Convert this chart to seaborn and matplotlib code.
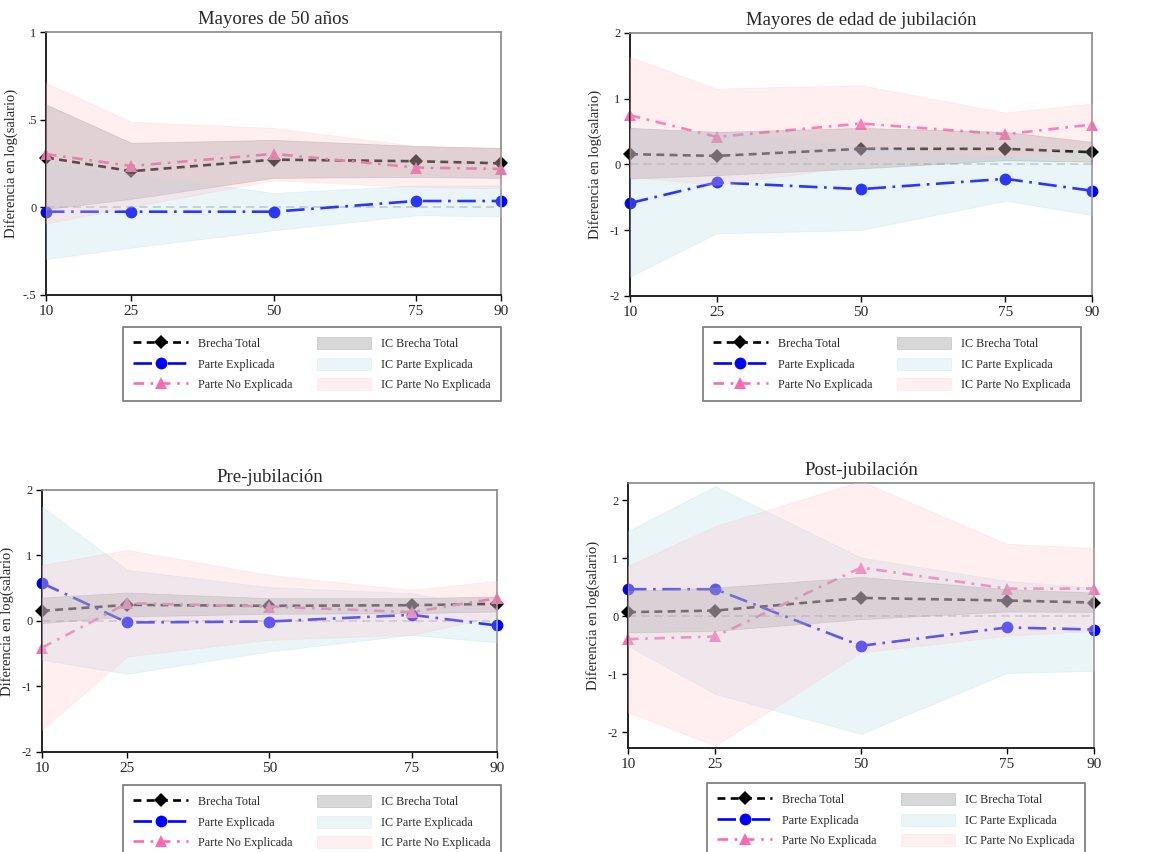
import matplotlib
matplotlib.use("Agg")
import matplotlib.pyplot as plt
import seaborn as sns

# percentiles
pct = [10, 25, 50, 75, 90]

# Mayores de 50 anos
m50_total = [0.284, 0.206, 0.272, 0.263, 0.251]
m50_expl = [-0.025, -0.025, -0.025, 0.036, 0.036]
m50_noexpl = [0.303, 0.236, 0.305, 0.227, 0.219]
m50_total_lo = [-0.01, 0.048, 0.168, 0.173, 0.168]
m50_total_hi = [0.587, 0.368, 0.385, 0.350, 0.339]
m50_expl_lo = [-0.295, -0.230, -0.131, -0.046, -0.051]
m50_expl_hi = [0.250, 0.190, 0.082, 0.124, 0.124]
m50_noexpl_lo = [-0.093, 0.002, 0.154, 0.116, 0.107]
m50_noexpl_hi = [0.710, 0.488, 0.453, 0.350, 0.335]

# Mayores de edad de jubilacion
mej_total = [0.157, 0.130, 0.238, 0.238, 0.187]
mej_expl = [-0.587, -0.273, -0.375, -0.218, -0.400]
mej_noexpl = [0.749, 0.420, 0.623, 0.460, 0.607]
mej_total_lo = [-0.213, -0.162, -0.060, 0.066, 0.040]
mej_total_hi = [0.557, 0.496, 0.557, 0.496, 0.344]
mej_expl_lo = [-1.706, -1.048, -0.997, -0.552, -0.770]
mej_expl_hi = [0.547, 0.500, 0.270, 0.120, -0.010]
mej_noexpl_lo = [-0.190, -0.310, -0.020, 0.120, 0.287]
mej_noexpl_hi = [1.635, 1.154, 1.205, 0.790, 0.927]

# Pre-jubilacion
pre_total = [0.155, 0.246, 0.231, 0.241, 0.262]
pre_expl = [0.577, -0.023, -0.008, 0.094, -0.069]
pre_noexpl = [-0.409, 0.272, 0.221, 0.135, 0.348]
pre_total_lo = [-0.033, 0.069, 0.109, 0.119, 0.145]
pre_total_hi = [0.358, 0.435, 0.348, 0.348, 0.374]
pre_expl_lo = [-0.592, -0.806, -0.465, -0.211, -0.328]
pre_expl_hi = [1.746, 0.780, 0.516, 0.424, 0.196]
pre_noexpl_lo = [-1.660, -0.541, -0.287, -0.211, 0.069]
pre_noexpl_hi = [0.856, 1.085, 0.704, 0.475, 0.612]

# Post-jubilacion
post_total = [0.072, 0.100, 0.318, 0.273, 0.238]
post_expl = [0.468, 0.468, -0.508, -0.192, -0.227]
post_noexpl = [-0.393, -0.347, 0.841, 0.479, 0.479]
post_total_lo = [-0.278, -0.250, -0.049, 0.083, 0.077]
post_total_hi = [0.439, 0.496, 0.680, 0.468, 0.410]
post_expl_lo = [-0.508, -1.340, -2.029, -0.978, -0.938]
post_expl_hi = [1.472, 2.247, 1.013, 0.611, 0.496]
post_noexpl_lo = [-1.656, -2.230, -0.623, -0.336, -0.250]
post_noexpl_hi = [0.869, 1.558, 2.333, 1.254, 1.180]

sns.set_style("white")
plt.rcParams["font.family"] = ["Liberation Serif", "DejaVu Serif"]

fig = plt.figure(figsize=(11.63, 8.52), dpi=100)

panels = [
    ("Mayores de 50 años", [0.0396, 0.6538, 0.3912, 0.3086],
     (m50_total, m50_expl, m50_noexpl, m50_total_lo, m50_total_hi,
      m50_expl_lo, m50_expl_hi, m50_noexpl_lo, m50_noexpl_hi),
     (-0.5, 1.0), [-0.5, 0, 0.5, 1], ["-.5", "0", ".5", "1"], (0.1058, 0.6162)),
    ("Mayores de edad de jubilación", [0.5417, 0.6526, 0.3973, 0.3087],
     (mej_total, mej_expl, mej_noexpl, mej_total_lo, mej_total_hi,
      mej_expl_lo, mej_expl_hi, mej_noexpl_lo, mej_noexpl_hi),
     (-2, 2), [-2, -1, 0, 1, 2], ["-2", "-1", "0", "1", "2"], (0.6045, 0.6162)),
    ("Pre-jubilación", [0.0361, 0.1174, 0.3912, 0.3075],
     (pre_total, pre_expl, pre_noexpl, pre_total_lo, pre_total_hi,
      pre_expl_lo, pre_expl_hi, pre_noexpl_lo, pre_noexpl_hi),
     (-2, 2), [-2, -1, 0, 1, 2], ["-2", "-1", "0", "1", "2"], (0.1058, 0.0786)),
    ("Post-jubilación", [0.5400, 0.1221, 0.4007, 0.3110],
     (post_total, post_expl, post_noexpl, post_total_lo, post_total_hi,
      post_expl_lo, post_expl_hi, post_noexpl_lo, post_noexpl_hi),
     (-2.27, 2.3), [-2, -1, 0, 1, 2], ["-2", "-1", "0", "1", "2"], (0.6080, 0.0810)),
]

for title, rect, series, ylim, yticks, ylabels, leg_pos in panels:
    total, expl, noexpl, t_lo, t_hi, e_lo, e_hi, n_lo, n_hi = series
    ax = fig.add_axes(rect)

    # reference line at zero
    ax.axhline(0, color="#c8c8c8", linestyle=(0, (5, 3)), linewidth=1.2, zorder=1)

    sns.lineplot(x=pct, y=total, ax=ax, color="black", marker="D", markersize=7,
                 linewidth=1.9, linestyle=(0, (3, 2)), markeredgewidth=0,
                 clip_on=False, zorder=2)
    sns.lineplot(x=pct, y=expl, ax=ax, color="#0000ff", marker="o", markersize=8.5,
                 linewidth=1.9, linestyle=(0, (7, 2.5, 1, 2.5)), markeredgewidth=0,
                 clip_on=False, zorder=2)
    sns.lineplot(x=pct, y=noexpl, ax=ax, color="#ff69b4", marker="^", markersize=8.5,
                 linewidth=1.9, linestyle=(0, (4, 2.5, 1, 2.5)), markeredgewidth=0,
                 clip_on=False, zorder=2)
    lines = ax.get_lines()[-3:]

    # confidence bands drawn over the lines
    f1 = ax.fill_between(pct, t_lo, t_hi, color="grey", alpha=0.3, linewidth=0.6, zorder=3)
    f2 = ax.fill_between(pct, e_lo, e_hi, color="lightblue", alpha=0.25, linewidth=0.6, zorder=3)
    f3 = ax.fill_between(pct, n_lo, n_hi, color="pink", alpha=0.25, linewidth=0.6, zorder=3)

    ax.set_xlim(10, 90)
    ax.set_ylim(*ylim)
    ax.set_xticks(pct)
    ax.set_xticklabels([str(p) for p in pct], fontsize=11)
    ax.set_yticks(yticks)
    ax.set_yticklabels(ylabels, fontsize=9)
    ax.tick_params(axis="both", direction="out", length=4, width=1, color="black",
                   left=True, bottom=True, pad=3)
    ax.set_ylabel("Diferencia en log(salario)", fontsize=10.5)
    width_px = rect[2] * 1163
    ax.yaxis.set_label_coords(-28 / width_px, 0.5)
    ax.set_title(title, fontsize=13.5, pad=6)

    for side in ["left", "bottom"]:
        ax.spines[side].set_color("#222222")
        ax.spines[side].set_linewidth(1.4)
    for side in ["top", "right"]:
        ax.spines[side].set_color("#888888")
        ax.spines[side].set_linewidth(1.2)

    leg = ax.legend(lines + [f1, f2, f3],
                    ["Brecha Total", "Parte Explicada", "Parte No Explicada",
                     "IC Brecha Total", "IC Parte Explicada", "IC Parte No Explicada"],
                    ncol=2, loc="upper left", bbox_to_anchor=leg_pos,
                    bbox_transform=fig.transFigure, fontsize=8.7, frameon=True,
                    fancybox=False, edgecolor="#555555", handlelength=4.5,
                    handleheight=1.15, handletextpad=0.85, columnspacing=2.0,
                    labelspacing=0.6, borderpad=0.85, borderaxespad=0)
    leg.get_frame().set_linewidth(1.2)

fig.savefig("out.png", dpi=100)
